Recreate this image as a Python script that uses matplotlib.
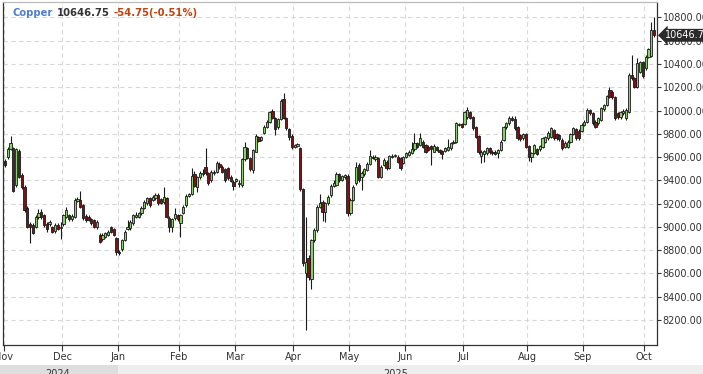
import numpy as np
import pandas as pd
import matplotlib
matplotlib.use("Agg")
import matplotlib.pyplot as plt
from matplotlib.patches import Rectangle
from matplotlib.transforms import blended_transform_factory

# daily OHLC, Copper, Nov 2024 - Oct 2025
opens = [9567, 9598, 9667, 9676, 9360, 9655, 9446, 9346, 9160, 9025, 9017, 9002, 9086, 9131, 9102, 9025, 9025, 9002, 8968, 9017,
         8990, 9025, 9088, 9102, 9065, 9088, 9222, 9231, 9188, 9094, 9088, 9065, 9060, 8997, 8930, 8893, 8916, 8930, 8997, 8980,
         8902, 8787, 8807, 8888, 8980, 8988, 9031, 9088, 9088, 9117, 9160, 9203, 9246, 9231, 9246, 9274, 9237, 9217, 9246, 9074,
         9002, 9074, 9103, 9031, 9123, 9188, 9266, 9280, 9455, 9346, 9426, 9455, 9512, 9461, 9403, 9461, 9475, 9541, 9512, 9495,
         9504, 9432, 9389, 9398, 9369, 9360, 9581, 9676, 9590, 9489, 9647, 9770, 9747, 9810, 9862, 9905, 10000, 9934, 9856, 9925,
         10097, 9934, 9839, 9782, 9690, 9696, 9676, 9323, 8600, 8733, 8550, 8888, 8974, 9174, 9217, 9131, 9203, 9275, 9352, 9360,
         9455, 9403, 9425, 9438, 9117, 9231, 9375, 9532, 9432, 9455, 9489, 9541, 9604, 9581, 9590, 9432, 9532, 9561, 9504, 9604,
         9610, 9604, 9590, 9552, 9598, 9618, 9638, 9667, 9719, 9704, 9733, 9704, 9690, 9696, 9647, 9684, 9661, 9656, 9656, 9661,
         9676, 9719, 9733, 9876, 9885, 9885, 9942, 9985, 9947, 9861, 9781, 9610, 9630, 9635, 9680, 9647, 9647, 9632, 9661, 9747,
         9856, 9890, 9933, 9925, 9856, 9790, 9761, 9798, 9696, 9604, 9638, 9667, 9667, 9684, 9733, 9761, 9776, 9833, 9798, 9790,
         9747, 9684, 9690, 9733, 9798, 9838, 9827, 9827, 9876, 9905, 10005, 9976, 9905, 9890, 9919, 10011, 10048, 10177, 10163, 10114,
         9976, 9942, 9976, 9933, 9991, 10306, 10277, 10205, 10334, 10420, 10363, 10463, 10469, 10693]
highs = [9581, 9690, 9780, 9690, 9680, 9670, 9460, 9360, 9180, 9040, 9030, 9100, 9150, 9150, 9110, 9040, 9060, 9010, 9030, 9030,
         9045, 9115, 9170, 9115, 9110, 9245, 9260, 9312, 9200, 9110, 9100, 9080, 9070, 9060, 8945, 8945, 8960, 8975, 9010, 8990,
         8915, 8800, 8900, 8975, 9060, 9060, 9115, 9130, 9130, 9180, 9230, 9260, 9260, 9275, 9290, 9290, 9250, 9346, 9260, 9090,
         9075, 9160, 9115, 9115, 9190, 9280, 9295, 9504, 9480, 9440, 9480, 9495, 9676, 9475, 9490, 9490, 9566, 9555, 9530, 9510,
         9515, 9445, 9400, 9420, 9400, 9590, 9733, 9690, 9600, 9670, 9800, 9785, 9780, 9880, 9915, 10000, 10010, 9945, 9935, 10100,
         10154, 9945, 9850, 9795, 9715, 9720, 9690, 9335, 9088, 8760, 8900, 8990, 9190, 9280, 9230, 9215, 9275, 9370, 9405, 9470,
         9465, 9450, 9455, 9455, 9245, 9360, 9560, 9545, 9480, 9510, 9555, 9660, 9620, 9615, 9600, 9530, 9590, 9575, 9620, 9625,
         9630, 9615, 9600, 9610, 9645, 9660, 9730, 9810, 9730, 9805, 9750, 9715, 9700, 9705, 9710, 9695, 9670, 9665, 9690, 9755,
         9730, 9745, 9905, 9895, 9895, 10000, 10030, 10000, 9955, 9870, 9790, 9660, 9665, 9690, 9690, 9660, 9660, 9670, 9745, 9870,
         9900, 9955, 9955, 9955, 9865, 9800, 9810, 9810, 9705, 9640, 9715, 9680, 9705, 9770, 9785, 9820, 9860, 9845, 9810, 9800,
         9760, 9735, 9745, 9810, 9860, 9850, 9840, 9890, 9915, 10020, 10015, 9985, 9915, 9945, 10030, 10060, 10135, 10200, 10175, 10125,
         9990, 10000, 10010, 10020, 10320, 10478, 10290, 10450, 10430, 10430, 10475, 10540, 10760, 10800]
lows = [9518, 9580, 9660, 9300, 9340, 9420, 9330, 9130, 8990, 8865, 8940, 8990, 9070, 9070, 9000, 8960, 9010, 8950, 8950, 8970,
        8900, 9010, 9080, 9050, 9055, 9080, 9215, 9160, 9060, 9040, 9050, 9020, 8990, 8985, 8860, 8880, 8905, 8920, 8950, 8920,
        8760, 8760, 8790, 8880, 8970, 8975, 9020, 9075, 9075, 9100, 9150, 9190, 9175, 9220, 9230, 9190, 9195, 9200, 9075, 8960,
        8959, 9060, 9050, 8917, 9110, 9175, 9255, 9270, 9340, 9303, 9410, 9440, 9450, 9360, 9390, 9450, 9465, 9500, 9460, 9390,
        9405, 9385, 9315, 9385, 9340, 9340, 9570, 9580, 9480, 9460, 9640, 9730, 9740, 9800, 9850, 9895, 9925, 9790, 9845, 9915,
        9925, 9835, 9750, 9670, 9680, 9685, 9310, 8660, 8114, 8540, 8470, 8870, 8960, 9160, 9050, 9040, 9190, 9260, 9340, 9350,
        9390, 9395, 9410, 9090, 9100, 9220, 9360, 9390, 9320, 9440, 9480, 9530, 9580, 9570, 9420, 9420, 9520, 9490, 9495, 9595,
        9600, 9550, 9490, 9540, 9590, 9610, 9630, 9655, 9680, 9695, 9680, 9635, 9650, 9530, 9640, 9650, 9630, 9580, 9645, 9650,
        9665, 9710, 9725, 9866, 9850, 9875, 9930, 9930, 9835, 9765, 9630, 9547, 9560, 9620, 9630, 9620, 9615, 9590, 9650, 9740,
        9845, 9880, 9910, 9835, 9750, 9740, 9750, 9680, 9570, 9560, 9630, 9615, 9655, 9675, 9725, 9750, 9765, 9750, 9750, 9740,
        9665, 9675, 9680, 9725, 9790, 9750, 9750, 9815, 9865, 9895, 9965, 9880, 9850, 9880, 9910, 10000, 10040, 10105, 10100, 9920,
        9930, 9930, 9965, 9920, 9980, 10260, 10190, 10195, 10320, 10280, 10350, 10455, 10460, 10630]
closes = [9532, 9667, 9724, 9312, 9667, 9432, 9346, 9145, 9002, 8997, 8951, 9088, 9120, 9082, 9017, 8980, 9045, 8960, 9017, 8980,
          8997, 9102, 9145, 9065, 9094, 9231, 9240, 9168, 9074, 9060, 9060, 9031, 9002, 9045, 8873, 8930, 8945, 8959, 8959, 8930,
          8787, 8773, 8888, 8959, 8997, 9045, 9102, 9102, 9117, 9160, 9217, 9246, 9188, 9260, 9274, 9203, 9208, 9254, 9088, 9002,
          9065, 9111, 9065, 9103, 9174, 9266, 9280, 9438, 9352, 9426, 9467, 9467, 9461, 9375, 9475, 9475, 9552, 9512, 9475, 9403,
          9418, 9398, 9352, 9409, 9380, 9581, 9684, 9590, 9495, 9661, 9782, 9741, 9770, 9862, 9905, 9991, 9934, 9839, 9925, 10085,
          9934, 9847, 9770, 9690, 9706, 9713, 9323, 8687, 8700, 8572, 8888, 8974, 9174, 9205, 9130, 9203, 9260, 9352, 9375, 9455,
          9403, 9438, 9445, 9117, 9231, 9346, 9518, 9403, 9466, 9495, 9541, 9610, 9590, 9604, 9432, 9518, 9575, 9504, 9610, 9610,
          9618, 9561, 9504, 9598, 9633, 9647, 9667, 9719, 9690, 9762, 9690, 9647, 9661, 9667, 9696, 9661, 9647, 9624, 9676, 9690,
          9719, 9733, 9896, 9885, 9862, 9990, 10005, 9940, 9848, 9775, 9647, 9647, 9650, 9676, 9647, 9632, 9627, 9661, 9733, 9862,
          9890, 9933, 9919, 9847, 9761, 9753, 9798, 9690, 9598, 9632, 9704, 9627, 9696, 9761, 9776, 9810, 9847, 9761, 9761, 9753,
          9675, 9724, 9733, 9798, 9847, 9761, 9761, 9876, 9905, 10005, 9976, 9890, 9862, 9933, 10019, 10048, 10125, 10114, 10114, 9933,
          9942, 9991, 10000, 10005, 10306, 10277, 10205, 10406, 10420, 10297, 10463, 10526, 10693, 10646.75]

holidays = ["2024-12-25", "2024-12-26", "2025-01-01", "2025-04-18", "2025-04-21",
            "2025-05-05", "2025-05-26", "2025-08-25"]
name = "Copper"
last_price = "10646.75"
change = "-54.75(-0.51%)"

dates = pd.bdate_range("2024-11-01", "2025-10-06")
dates = dates[~dates.isin(pd.to_datetime(holidays))][:len(closes)]

o = np.array(opens, float)
h = np.array(highs, float)
l = np.array(lows, float)
c = np.array(closes, float)
x = np.arange(len(c))

W, H = 703, 374
fig = plt.figure(figsize=(W / 100, H / 100), dpi=100)
fig.patch.set_facecolor("white")
ax = fig.add_axes([3 / W, 29 / H, 654 / W, 343 / H])

up = c >= o
body_lo = np.minimum(o, c)
body_h = np.maximum(np.abs(c - o), 4)
ax.vlines(x, l, h, color="#1a1a1a", lw=0.8, zorder=2)
ax.bar(x[up], body_h[up], bottom=body_lo[up], width=0.8, color="#86d16a",
       edgecolor="#1a1a1a", linewidth=0.6, zorder=3)
ax.bar(x[~up], body_h[~up], bottom=body_lo[~up], width=0.8, color="#7a1414",
       edgecolor="#1a1a1a", linewidth=0.6, zorder=3)

ax.set_xlim(-0.72, len(c) - 1 + 1.08)
ax.set_ylim(7985, 10933)

# month ticks between the last day of a month and the first of the next
month = dates.to_period("M")
starts = [0] + [i for i in range(1, len(dates)) if month[i] != month[i - 1]]
ax.set_xticks([s - 0.5 for s in starts])
ax.set_xticklabels([dates[s].strftime("%b") for s in starts])
ax.set_yticks(np.arange(8200, 10801, 200))
ax.yaxis.set_major_formatter(matplotlib.ticker.FormatStrFormatter("%.2f"))
ax.yaxis.tick_right()
ax.tick_params(axis="y", direction="out", length=3, width=0.8, color="#333333",
               labelsize=7, labelcolor="#333333", pad=1)
ax.tick_params(axis="x", direction="out", length=4, width=0.8, color="#333333",
               labelsize=7, labelcolor="#333333", pad=1)
ax.grid(True, color="#d8d8d8", lw=0.8, ls=(0, (4, 3)))
ax.set_axisbelow(True)
for s in ax.spines.values():
    s.set_color("#333333")
    s.set_linewidth(0.9)
ax.spines["top"].set_color("#bbbbbb")

# last price tag
blend_y = blended_transform_factory(ax.transAxes, ax.transData)
ax.text(1.012, c[-1], last_price, transform=blend_y, ha="left", va="center",
        fontsize=7, color="white", clip_on=False, zorder=5,
        bbox=dict(boxstyle="larrow,pad=0.15", fc="#2b2b2b", ec="none"))

# year band along the bottom
band_h = 9 / H
fig.add_artist(Rectangle((0, 0), 1, band_h, transform=fig.transFigure,
                         fc="#eeeeee", ec="none", zorder=0))
blend_x = blended_transform_factory(ax.transData, fig.transFigure)
jan = [s for s in starts if dates[s].month == 1][0] - 0.5
fig.add_artist(Rectangle((-5, 0), jan + 5, band_h, transform=blend_x,
                         fc="#dedede", ec="none", zorder=0))
fig.text((ax.get_xlim()[0] + jan) / 2 - 1, 5 / H, str(dates[0].year),
         transform=blend_x, ha="center", va="top", fontsize=7, color="#333333")
fig.text((jan + ax.get_xlim()[1]) / 2 + 3, 5 / H, str(dates[-1].year),
         transform=blend_x, ha="center", va="top", fontsize=7, color="#333333")

# header
r = fig.canvas.get_renderer()
xp = 12
for txt, col in [(name, "#4f7fcf"), (last_price, "#333333"), (change, "#c1440e")]:
    t = fig.text(xp / W, 1 - 13 / H, txt, fontsize=7.2, fontweight="bold",
                 color=col, va="center", ha="left")
    xp += t.get_window_extent(r).width + 4

fig.savefig("out.png", dpi=100)
